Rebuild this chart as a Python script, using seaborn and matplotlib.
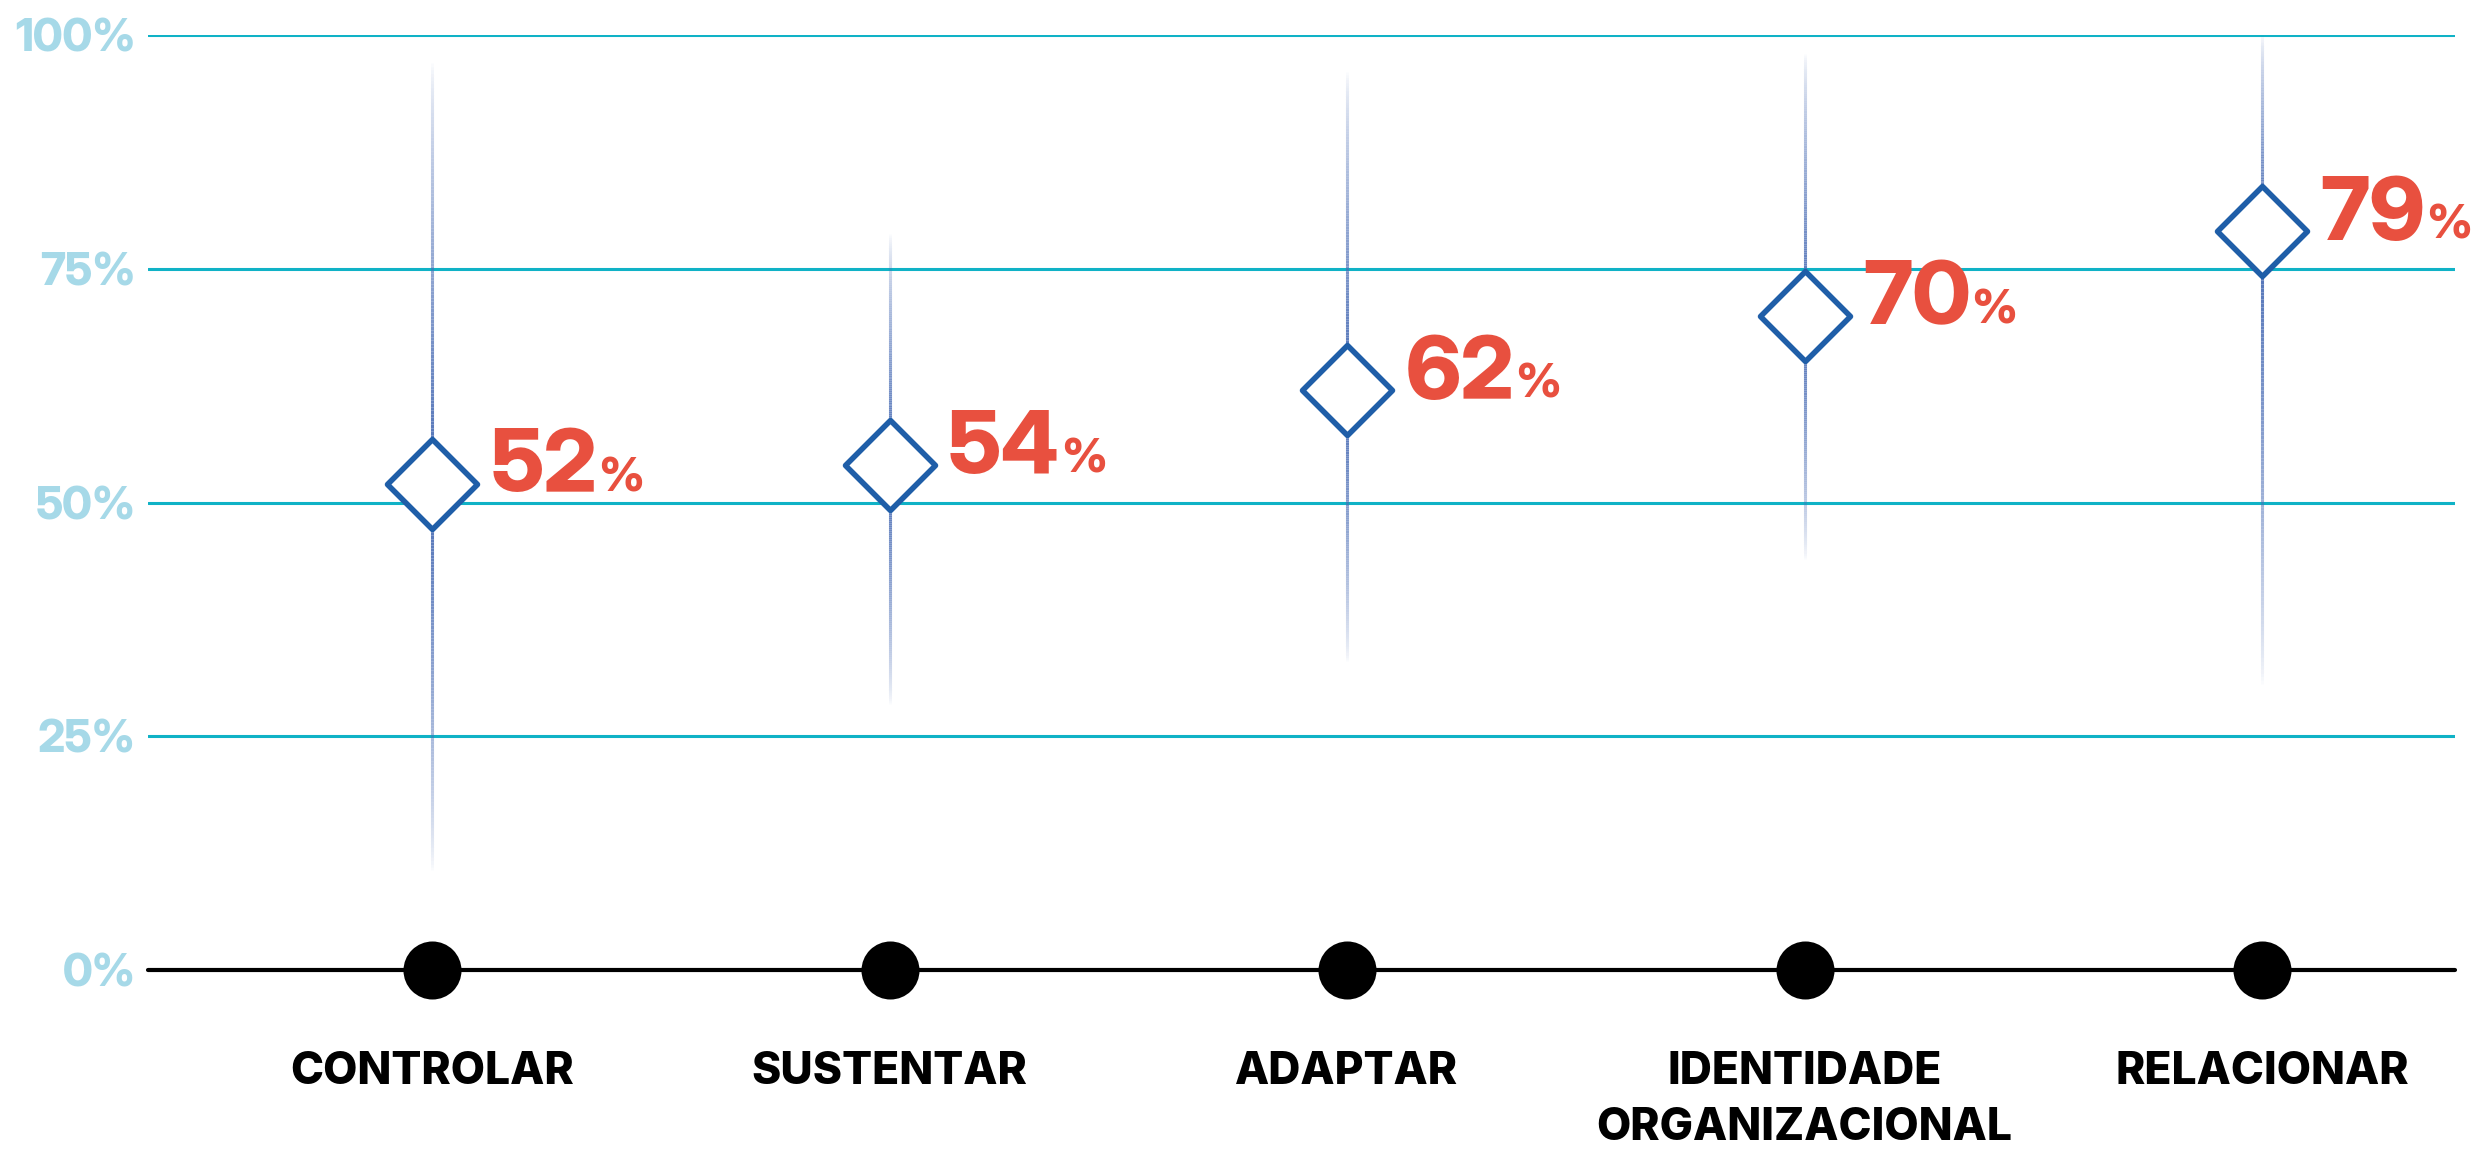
import numpy as np
import pandas as pd
import matplotlib
matplotlib.use("Agg")
import matplotlib.pyplot as plt
import seaborn as sns
from matplotlib.collections import LineCollection
from matplotlib.colors import to_rgba

# ---------------- data ----------------
categories = ["CONTROLAR", "SUSTENTAR", "ADAPTAR", "IDENTIDADE\nORGANIZACIONAL", "RELACIONAR"]
values = [52, 54, 62, 70, 79]
range_low = [10.7, 28.4, 33, 44, 30.6]
range_high = [97, 78.7, 96, 98, 100]
y_ticks = [0, 25, 50, 75, 100]
y_tick_labels = ["0%", "25%", "50%", "75%", "100%"]

# ---------------- style ----------------
sns.set_theme(style="white")
plt.rcParams["font.family"] = ["Inter", "DejaVu Sans"]
NUM_FONT = ["Inter Display", "Inter", "DejaVu Sans"]

GRID = "#10b2c6"
TICK_BLUE = "#a6d9e8"
LINE_BLUE = "#4a6db5"
DIAMOND = "#1f5ea8"
RED = "#e8503f"

W, H, DPI = 2476, 1153, 100
fig = plt.figure(figsize=(W / DPI, H / DPI), dpi=DPI)
ax = fig.add_axes([148 / W, 1 - 970 / H, (2455 - 148) / W, (970 - 35) / H])

xs = np.arange(len(categories))
df = pd.DataFrame({"x": xs, "value": values, "zero": [0] * len(xs)})

ax.set_xlim(-0.6208, 4.4218)
ax.set_ylim(0, 100)

# grid lines (25..100)
for t in y_ticks[1:]:
    ax.axhline(t, color=GRID, lw=2.2, zorder=0)
# baseline
ax.axhline(0, color="black", lw=3.0, zorder=2, clip_on=False)

# gradient vertical range lines
base = np.array(to_rgba(LINE_BLUE))
for xi, v, lo, hi in zip(xs, values, range_low, range_high):
    for end in (lo, hi):
        n = 120
        ys = np.linspace(end, v, n + 1)
        segs = [[(xi, ys[k]), (xi, ys[k + 1])] for k in range(n)]
        t = (np.arange(n) + 0.5) / n
        alpha = np.clip(t ** 0.7, 0, 1)
        cols = np.tile(base, (n, 1))
        cols[:, 3] = alpha
        lc = LineCollection(segs, colors=cols, linewidths=2.2, zorder=1, capstyle="butt")
        ax.add_collection(lc)

# diamonds
sns.scatterplot(data=df, x="x", y="value", marker="D", s=2100, facecolor="white",
                edgecolor=DIAMOND, linewidth=4.0, zorder=4, ax=ax, legend=False)
# black dots at 0
sns.scatterplot(data=df, x="x", y="zero", marker="o", s=1745, color="black",
                edgecolor="black", linewidth=0, zorder=5, ax=ax, legend=False, clip_on=False)

# value labels
fig.canvas.draw()
renderer = fig.canvas.get_renderer()
for xi, v in zip(xs, values):
    t = ax.annotate(f"{v}", xy=(xi, v), xytext=(42, -5.5), textcoords="offset points",
                    ha="left", va="baseline", fontsize=63, fontweight=800, color=RED,
                    family=NUM_FONT, zorder=6)
    bb = t.get_window_extent(renderer)
    wpt = bb.width * 72 / DPI
    ax.annotate("%", xy=(xi, v), xytext=(42 + wpt + 0.5, -5.5), textcoords="offset points",
                ha="left", va="baseline", fontsize=34, fontweight=800, color=RED,
                family=NUM_FONT, zorder=6)

# ticks
ax.set_yticks(y_ticks)
ax.set_yticklabels(y_tick_labels, fontsize=32, fontweight=800, color=TICK_BLUE, family=NUM_FONT)
ax.set_xticks(xs)
ax.set_xticklabels(categories, fontsize=32, fontweight=800, color="black",
                   linespacing=1.45, va="top", ha="center", multialignment="center")
ax.tick_params(axis="y", length=0, pad=9)
ax.tick_params(axis="x", length=0, pad=58)
ax.set_xlabel("")
ax.set_ylabel("")
for s in ax.spines.values():
    s.set_visible(False)
ax.grid(False)

fig.savefig("out.png", dpi=DPI, facecolor="white")
